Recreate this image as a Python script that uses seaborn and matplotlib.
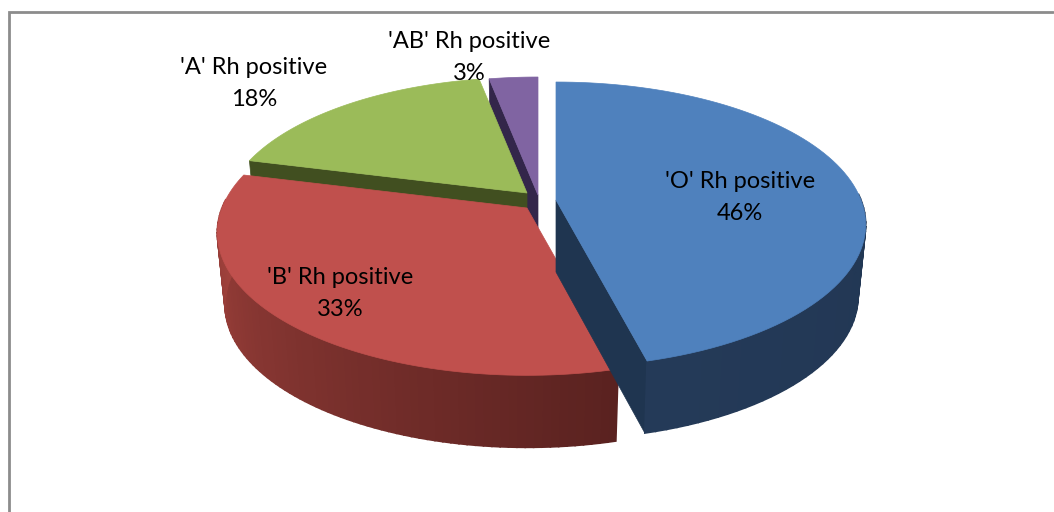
import numpy as np
import seaborn as sns
import matplotlib.pyplot as plt
from matplotlib.colors import to_rgb

# Blood group shares
labels = ["'O' Rh positive", "'B' Rh positive", "'A' Rh positive", "'AB' Rh positive"]
values = [46, 33, 18, 3]
top_colors = ["#4F81BD", "#C0504D", "#9BBB59", "#8064A2"]

# Side shading, from the start of a slice's arc to its end
side_colors = [("#1F334E", "#243A58"), ("#5A2220", "#A8453F"), ("#414F20", "#414F20"), ("#33264A", "#33264A")]
wall_colors = ["#1F3550", "#5A2220", "#414F20", "#33264A"]

# Perspective settings, picture in pixels
apex = [(556, 200), (527, 208), (527, 193), (538, 195)]
slice_scale = [1, 1, 0.98, 1]
rx, ry, tilt = 305, 138.4, 0.173
depth = 72
bottom_shrink = 0.975

# Label centres
label_xy = [(740, 181), (340, 278), (254, 67), (469, 42)]
pct_gap = 32

sns.set_theme(style="white")
plt.rcParams["font.family"] = ["Lato", "DejaVu Sans"]


def project(theta, center, scale=1, drop=0, shrink=1):
    u, v = np.sin(theta), np.cos(theta)
    den = 1 + tilt * v
    return center[0] + scale * shrink * rx * u / den, center[1] - scale * ry * v / den + drop


fig, ax = plt.subplots(figsize=(10.54, 5.12), dpi=100)
fig.subplots_adjust(0, 0, 1, 1)
ax.set_xlim(0, 1054)
ax.set_ylim(512, 0)
ax.axis("off")

# frame, only the top and left edges are in the picture
ax.plot([1053, 9, 9], [12, 12, 512], color="#8C8C8C", lw=2, solid_joinstyle="miter")

shares = np.array(values) / sum(values) * 2 * np.pi
ends = np.cumsum(shares)
starts = ends - shares

for i in [3, 2, 1, 0]:
    t0, t1 = starts[i], ends[i]
    c = apex[i]
    s = slice_scale[i]
    thetas = np.linspace(t0, t1, 90)
    tx, ty = project(thetas, c, s)
    bx, by = project(thetas, c, s, depth, bottom_shrink)

    # radial wall facing the viewer
    if i != 1:
        edge = t1 if i == 0 else t0
        wx, wy = project(edge, c, s)
        wbx, wby = project(edge, c, s, depth, bottom_shrink)
        ax.fill([c[0], wx, wbx, c[0]], [c[1], wy, wby, c[1] + depth], color=wall_colors[i], lw=0.5)

    # outer side, one strip per step, the back of the pie has none
    a, b = np.array(to_rgb(side_colors[i][0])), np.array(to_rgb(side_colors[i][1]))
    for j in range(len(thetas) - 1):
        if np.cos(thetas[j]) > 0.05:
            continue
        col = a + (b - a) * j / (len(thetas) - 2)
        ax.fill([tx[j], tx[j + 1], bx[j + 1], bx[j]], [ty[j], ty[j + 1], by[j + 1], by[j]], color=col, lw=1.2)

    # top face
    ax.fill(np.r_[c[0], tx], np.r_[c[1], ty], color=top_colors[i], lw=0.5)

for name, val, (x, y) in zip(labels, values, label_xy):
    ax.text(x, y, name, ha="center", va="center", fontsize=17, color="black")
    ax.text(x, y + pct_gap, f"{val}%", ha="center", va="center", fontsize=17, color="black")

plt.savefig("out.png", dpi=100)
